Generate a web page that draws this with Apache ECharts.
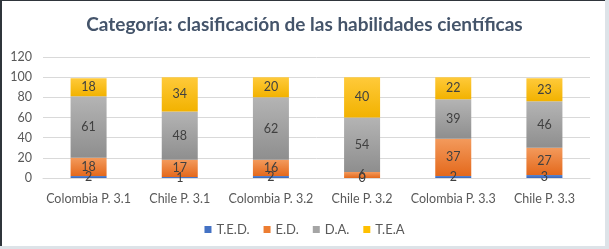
<!DOCTYPE html>
<html><head><meta charset="utf-8">
<style>html,body{margin:0;padding:0;background:#fff;}#c{width:609px;height:249px;}</style>
<script src="https://cdn.jsdelivr.net/npm/echarts@6/dist/echarts.min.js"></script>
</head><body><div id="c"></div>
<script>
const categories = ['Colombia P. 3.1','Chile P. 3.1','Colombia P. 3.2','Chile P. 3.2','Colombia P. 3.3','Chile P. 3.3'];
const seriesNames = ['T.E.D.','E.D.','D.A.','T.E.A'];
const ted = [2,1,2,0,2,3];
const ed = [18,17,16,6,37,27];
const da = [61,48,62,54,39,46];
const tea = [18,34,20,40,22,23];
const yTicks = [0,20,40,60,80,100,120];

const grad = (top, bot) => new echarts.graphic.LinearGradient(0,0,0,1,[{offset:0,color:top},{offset:1,color:bot}]);
const colors = [
  grad('#5a86d0','#3a66b8'),
  grad('#f39a5c','#e4691c'),
  grad('#b4b4b4','#8e8e8e'),
  grad('#ffca3a','#f2b200')
];
const legendColors = ['#4472c4','#ed7d31','#a5a5a5','#ffc000'];
const font = 'Lato, Open Sans, sans-serif';
const values = [ted, ed, da, tea];

const chart = echarts.init(document.getElementById('c'), null, {renderer:'canvas'});
chart.setOption({
  animation:false,
  backgroundColor:'#fff',
  title:{text:'Categoría: clasificación de las habilidades científicas',left:'center',top:10,
    textStyle:{fontFamily:font,fontSize:19,fontWeight:'bold',color:'#44546a'}},
  legend:{top:218,left:'center',itemWidth:7,itemHeight:7,itemGap:14,icon:'rect',
    textStyle:{fontFamily:font,fontSize:13,color:'#595959'},
    data:seriesNames.map((n,i)=>({name:n,itemStyle:{color:legendColors[i]}}))},
  grid:{left:43,right:19,top:57,bottom:71,containLabel:false},
  xAxis:{type:'category',data:categories,
    axisLine:{show:true,lineStyle:{color:'#d9d9d9'}},axisTick:{show:false},
    axisLabel:{fontFamily:font,fontSize:12.5,color:'#595959',margin:14,interval:0}},
  yAxis:{type:'value',min:0,max:120,interval:20,
    axisLine:{show:false},axisTick:{show:false},
    splitLine:{lineStyle:{color:'#d9d9d9'}},
    axisLabel:{fontFamily:font,fontSize:12.5,color:'#595959',margin:11,
      formatter:v=>yTicks.includes(v)?String(v):''}},
  series:seriesNames.map((n,i)=>({
    name:n,type:'bar',stack:'total',barWidth:36,
    itemStyle:{color:colors[i]},
    label:{show:true,position:'inside',fontFamily:font,fontSize:12.5,color:'#404040'},
    data:values[i]
  })),
  graphic:[
    {type:'rect',shape:{x:0,y:0,width:2,height:249},style:{fill:'#2f353b'},z:100},
    {type:'rect',shape:{x:0,y:0,width:609,height:1},style:{fill:'#2f353b'},z:100},
    {type:'rect',shape:{x:605,y:0,width:4,height:249},style:{fill:'#dde3e8'},z:100},
    {type:'rect',shape:{x:0,y:246,width:609,height:3},style:{fill:'#dde3e8'},z:100}
  ]
});
</script></body></html>
